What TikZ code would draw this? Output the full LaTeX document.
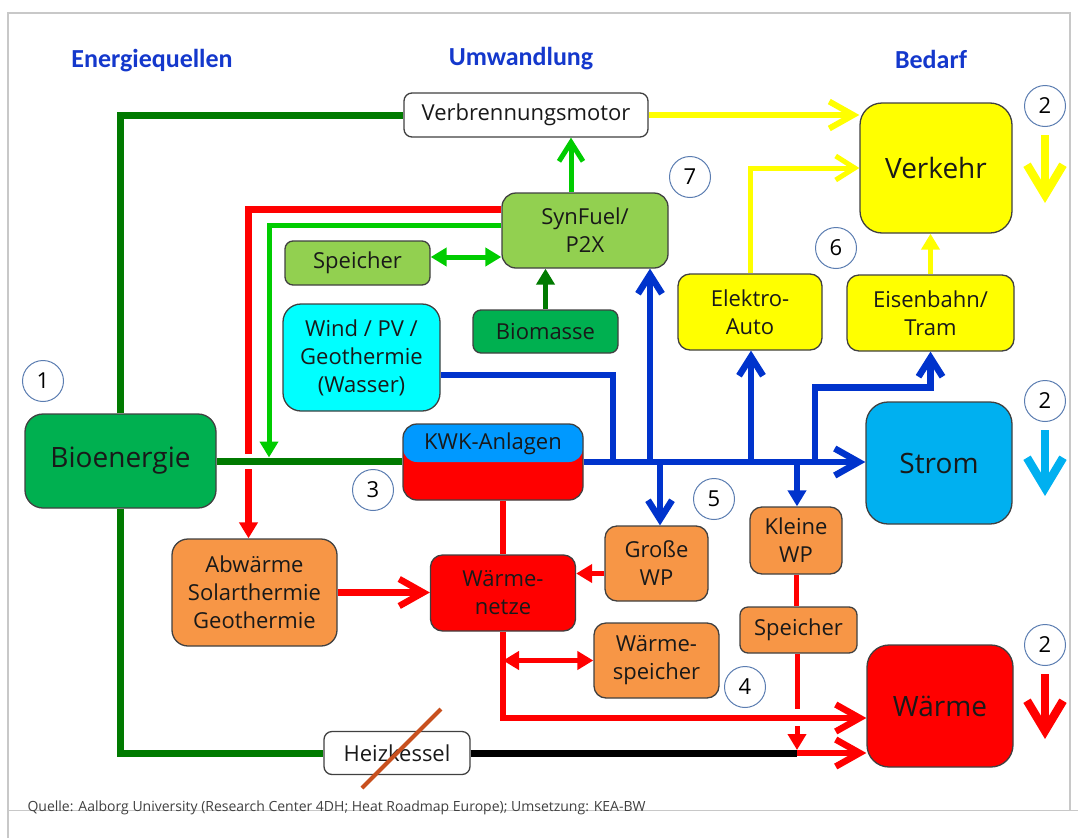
\documentclass[tikz,border=0pt]{standalone}
\usepackage{fontspec}
\setmainfont{Open Sans}
\newfontfamily\headfont{Carlito}
\usetikzlibrary{arrows.meta,calc}

\definecolor{headblue}{HTML}{1438CC}
\definecolor{framegrey}{HTML}{C8C8C8}
\definecolor{boxline}{HTML}{404040}
\definecolor{darkgrn}{HTML}{007A00}
\definecolor{brightgrn}{HTML}{00CC00}
\definecolor{lightgrn}{HTML}{92D050}
\definecolor{biogrn}{HTML}{00B050}
\definecolor{cyanbox}{HTML}{00FFFF}
\definecolor{yel}{HTML}{FFFF00}
\definecolor{stromblue}{HTML}{00B0F0}
\definecolor{kwkblue}{HTML}{0099FF}
\definecolor{hotred}{HTML}{FF0000}
\definecolor{orng}{HTML}{F79646}
\definecolor{busblue}{HTML}{0033CC}
\definecolor{strikeclr}{HTML}{C8501E}
\definecolor{ringblue}{HTML}{5B7DB1}

\newcommand\boxfont{\fontsize{22}{28}\selectfont}
\newcommand\bigfont{\fontsize{28}{32}\selectfont}

\begin{document}
\begin{tikzpicture}[
  x=1pt, y=-1pt,
  ent/.style={draw=boxline, line width=1.3pt, rounded corners=10pt, align=center,
              inner sep=0pt, font=\boxfont, text=black!90},
  big/.style={ent, font=\bigfont, rounded corners=22pt},
  num/.style={circle, draw=ringblue, line width=1pt, fill=white, minimum size=41pt,
              inner sep=0pt, font=\boxfont},
  head/.style={font=\headfont\bfseries\fontsize{26}{30}\selectfont, text=headblue},
  foot/.style={font=\fontsize{14}{16}\selectfont, text=black!75},
  dgln/.style={draw=darkgrn, line width=7pt},
  dgthin/.style={draw=darkgrn, line width=5pt},
  grnln/.style={draw=brightgrn, line width=5pt},
  blueln/.style={draw=busblue, line width=6.5pt},
  redln/.style={draw=hotred, line width=6.5pt},
  redthin/.style={draw=hotred, line width=5pt},
  yelln/.style={draw=yel, line width=6pt},
  yelthin/.style={draw=yel, line width=5pt},
  blkln/.style={draw=black, line width=7pt},
  bigln/.style={line width=8.5pt},
  chev/.style={-{Straight Barb[length=24pt,width=27pt]}},
  chevs/.style={-{Straight Barb[length=19pt,width=24pt]}},
  bigchev/.style={-{Straight Barb[length=30pt,width=36pt]}},
  tri/.style={-{Triangle[length=16pt,width=18pt]}},
  bitri/.style={{Triangle[length=16pt,width=18pt]}-{Triangle[length=16pt,width=18pt]}}
]
\useasboundingbox (0,0) rectangle (1078,838);

% ---- frame and headings -------------------------------------------------
\draw[framegrey, line width=1.5pt] (8,838) -- (8,13) -- (1070,13) -- (1070,810);
\draw[framegrey, line width=1pt] (8,810) -- (1078,810);

\node[head] (hsrc)  at (152,61) {Energiequellen};
\node[head] (hconv) at (521,59) {Umwandlung};
\node[head] (hdem)  at (931,59) {Bedarf};

% ---- sources and conversion ---------------------------------------------
\node[ent, fill=white, minimum width=244pt, minimum height=44pt, rounded corners=8pt] (vm) at (526,115) {Verbrennungsmotor};
\node[ent, fill=lightgrn, minimum width=166pt, minimum height=75pt, rounded corners=14pt] (syn) at (585,230.5) {SynFuel/\\P2X};
\node[ent, fill=lightgrn, minimum width=145pt, minimum height=44pt, rounded corners=8pt] (spg) at (357.5,263) {Speicher};
\node[ent, fill=cyanbox, minimum width=157pt, minimum height=107pt, rounded corners=18pt] (wind) at (361.5,357.5) {Wind / PV /\\Geothermie\\(Wasser)};
\node[ent, fill=biogrn, minimum width=145pt, minimum height=43pt, rounded corners=8pt] (biom) at (545.5,331.5) {Biomasse};
\node[ent, fill=biogrn, font=\bigfont, minimum width=191pt, minimum height=94pt, rounded corners=18pt] (bio) at (120.5,461) {Bioenergie};
\node[ent, fill=hotred, minimum width=180pt, minimum height=76pt, rounded corners=14pt,
      path picture={\fill[kwkblue] (path picture bounding box.north west) rectangle (path picture bounding box.east);}] (kwk) at (493,462) {};
\node[font=\boxfont, text=black!90] (kwklbl) at (493,444) {KWK-Anlagen};
\node[ent, fill=orng, minimum width=165pt, minimum height=107pt, rounded corners=16pt] (abw) at (254.5,592.5) {Abwärme\\Solarthermie\\Geothermie};
\node[ent, fill=hotred, minimum width=145pt, minimum height=76pt, rounded corners=12pt] (wnetz) at (503,593) {Wärme-\\netze};
\node[ent, fill=orng, minimum width=103pt, minimum height=75pt, rounded corners=12pt] (gwp) at (656.5,563.5) {Große\\WP};
\node[ent, fill=orng, minimum width=92pt, minimum height=67pt, rounded corners=12pt] (kwp) at (796,540.5) {Kleine\\WP};
\node[ent, fill=orng, minimum width=117pt, minimum height=46pt, rounded corners=8pt] (spo) at (798.5,630) {Speicher};
\node[ent, fill=orng, minimum width=125pt, minimum height=75pt, rounded corners=12pt] (wsp) at (656.5,660.5) {Wärme-\\speicher};
\node[ent, fill=white, minimum width=146pt, minimum height=43pt, rounded corners=8pt] (hk) at (397,753) {Heizkessel};
\node[ent, fill=yel, minimum width=144pt, minimum height=76pt, rounded corners=12pt] (eauto) at (750,312) {Elektro-\\Auto};
\node[ent, fill=yel, minimum width=167pt, minimum height=76pt, rounded corners=12pt] (bahn) at (930.5,313) {Eisenbahn/\\Tram};

% ---- demand -------------------------------------------------------------
\node[big, fill=yel, minimum width=152pt, minimum height=130pt] (verkehr) at (936,168) {Verkehr};
\node[big, fill=stromblue, minimum width=146pt, minimum height=122pt] (strom) at (939,463) {Strom};
\node[big, fill=hotred, minimum width=146pt, minimum height=122pt] (waerme) at (940,706) {Wärme};

% ---- numbers ------------------------------------------------------------
\node[num] (c1)  at (43,381)   {1};
\node[num] (c2a) at (1045,106) {2};
\node[num] (c2b) at (1045,401) {2};
\node[num] (c2c) at (1045,645) {2};
\node[num] (c3)  at (373,490)  {3};
\node[num] (c4)  at (745,687)  {4};
\node[num] (c5)  at (714,499)  {5};
\node[num] (c6)  at (836,248)  {6};
\node[num] (c7)  at (690,177)  {7};

% ---- junctions ----------------------------------------------------------
\coordinate (tap) at (269,461);
\coordinate (b1) at (613,462);
\coordinate (b2) at (650,462);
\coordinate (b3) at (660,462);
\coordinate (b4) at (751,462);
\coordinate (b5) at (797,462);
\coordinate (b6) at (815,462);
\coordinate (jn) at (797,753);
\coordinate (rv) at ($(abw.north)+(-6,0)$);
\coordinate (sx) at ($(syn.north)+(-14,0)$);
\coordinate (sp) at ($(spg.east)+(0,-6)$);
\coordinate (gw) at ($(gwp.west)+(0,10)$);
\coordinate (wr) at ($(waerme.west)+(0,12)$);

% ---- bioenergy lines ----------------------------------------------------
\draw[dgln] (bio.north) |- (vm.west);
\draw[dgln] (bio.east) -- (bio.east -| kwk.west);
\draw[dgln] (bio.south) |- (hk.west);
\draw[blkln] (hk.east) -- (jn);
\draw[strikeclr, line width=4pt] ($(hk.center)+(44,-44)$) -- ($(hk.center)+(-35,35)$);

% ---- synfuel ------------------------------------------------------------
\draw[redln] ($(syn.north west)+(0,17)$) -| ($(rv |- bio.east)+(0,-7)$);
\draw[redln, tri] ($(rv |- bio.east)+(0,8)$) -- (rv);
\draw[grnln, tri] ($(syn.north west)+(0,33)$) -| ($(tap)+(0,-3.5)$);
\draw[grnln, chevs] (sx) -- (sx |- vm.south);
\draw[dgthin, tri] (biom.north) -- (biom.north |- syn.south);
\draw[grnln, bitri] (sp) -- (sp -| syn.west);

% ---- electricity --------------------------------------------------------
\draw[blueln, chev] (kwk.east) -- (kwk.east -| strom.west);
\draw[blueln] ($(wind.east)+(0,17.5)$) -| (b1);
\draw[blueln, chevs] (b2) -- (b2 |- syn.south);
\draw[blueln, chevs] (b3) -- (b3 |- gwp.north);
\draw[blueln, chevs] (b4) -- (b4 |- eauto.south);
\draw[blueln, tri] (b5) -- (b5 |- kwp.north);
\draw[blueln, chevs] (b6) |- ($(bahn.south)+(0,36)$) -- (bahn.south);

% ---- transport ----------------------------------------------------------
\draw[yelln, chev] (vm.east) -- (vm.east -| verkehr.west);
\draw[yelthin, chevs] (eauto.north) |- (verkehr.west);
\draw[yelthin, tri] (bahn.north) -- (bahn.north |- verkehr.south);

% ---- heat ---------------------------------------------------------------
\draw[redln] (kwk.south -| wnetz.north) -- (wnetz.north);
\draw[redln, chev] (abw.east) -- (abw.east -| wnetz.west);
\draw[redthin, tri] (gw) -- (gw -| wnetz.east);
\draw[redln, chev] (wnetz.south) |- (wr);
\draw[redthin, bitri] (wnetz.south |- wsp.west) -- (wsp.west);
\draw[redthin] (kwp.south) -- (kwp.south |- spo.north);
\draw[redthin] (spo.south -| jn) -- ($(jn |- wr)+(0,-9)$);
\draw[redthin, tri] ($(jn |- wr)+(0,8)$) -- ($(jn)+(0,-3)$);
\draw[redln, chev] (jn) -- (jn -| waerme.west);

% ---- trend arrows -------------------------------------------------------
\draw[bigln, yel, bigchev] ($(c2a.south)+(0,8)$) -- ($(c2a.south)+(0,76)$);
\draw[bigln, stromblue, bigchev] ($(c2b.south)+(0,8)$) -- ($(c2b.south)+(0,74)$);
\draw[bigln, hotred, bigchev] ($(c2c.south)+(0,8)$) -- ($(c2c.south)+(0,73)$);

\node[foot, anchor=west] (src) at (24,808) {Quelle: Aalborg University (Research Center 4DH; Heat Roadmap Europe); Umsetzung: KEA-BW};

\end{tikzpicture}
\end{document}
